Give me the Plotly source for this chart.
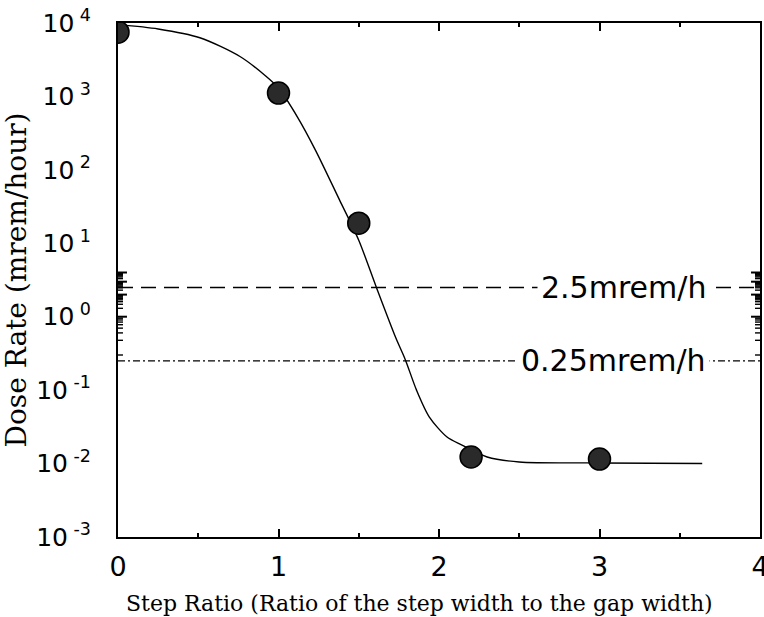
import math
import plotly.graph_objects as go

# measured points (Step ratio, dose rate mrem/h)
meas_x = [0.0, 1.0, 1.5, 2.2, 3.0]
meas_y = [7500, 1110, 18.8, 0.0123, 0.0115]

# fitted curve
curve_x = [0.0, 0.25, 0.51, 0.76, 0.92, 1.0, 1.12, 1.23, 1.38, 1.50, 1.61,
           1.73, 1.79, 1.86, 1.94, 2.05, 2.14, 2.30, 2.50, 3.0, 3.64]
curve_y = [9500, 8300, 6300, 3500, 1900, 1300, 515, 186, 39, 11, 2.5,
           0.52, 0.26, 0.10, 0.043, 0.023, 0.018, 0.0123, 0.0105, 0.0102, 0.0100]

# limit lines
limit_x = [0, 4]
limit_25 = 2.5
limit_025 = 0.25
limit_labels = ["2.5mrem/h", "0.25mrem/h"]

x_ticks = [0, 1, 2, 3, 4]
x_title = "Step Ratio (Ratio of the step width to the gap width)"
y_title = "Dose Rate (mrem/hour)"
y_exps = [-3, -2, -1, 0, 1, 2, 3, 4]
y_ticktext = ["10<sup> %d</sup>" % e if e >= 0 else "10<sup> -%d</sup>" % (-e) for e in y_exps]
y_minor = [k * 10.0 ** e for e in y_exps[:-1] for k in range(2, 10)]

fig = go.Figure()

fig.add_trace(go.Scatter(x=limit_x, y=[limit_25, limit_25], mode="lines",
                         line=dict(color="black", width=1.3, dash="15px,8px"),
                         showlegend=False, hoverinfo="skip"))
fig.add_trace(go.Scatter(x=limit_x, y=[limit_025, limit_025], mode="lines",
                         line=dict(color="black", width=1.3, dash="7px,3px,2px,3px"),
                         showlegend=False, hoverinfo="skip"))
fig.add_trace(go.Scatter(x=curve_x, y=curve_y, mode="lines",
                         line=dict(color="black", width=1.4, shape="spline", smoothing=0.8),
                         showlegend=False))
fig.add_trace(go.Scatter(x=meas_x, y=meas_y, mode="markers",
                         marker=dict(size=22, color="#2a2a2a",
                                     line=dict(color="black", width=1.5)),
                         showlegend=False))

for val, lab in zip([limit_25, limit_025], limit_labels):
    fig.add_annotation(x=3.69, y=math.log10(val), text=lab,
                       xanchor="right", yanchor="middle", showarrow=False,
                       bgcolor="white", borderpad=3,
                       font=dict(family="DejaVu Sans", size=30, color="black"))

fig.add_annotation(xref="paper", yref="paper", x=0.47, y=-0.13, text=x_title,
                   showarrow=False, xanchor="center", yanchor="middle",
                   font=dict(family="DejaVu Serif", size=22, color="black"))

# y-axis tick marks drawn on both the left and right frame edges
plot_w = 764 - 118 - 2
for vals, length, width in [([10.0 ** e for e in y_exps], 9, 2.0), (y_minor, 5, 1.4)]:
    frac = length / plot_w
    for v in vals:
        lv = math.log10(v)
        for x0, x1 in [(0, frac), (1 - frac, 1)]:
            fig.add_shape(type="line", xref="x domain", yref="y",
                          x0=x0, x1=x1, y0=lv, y1=lv,
                          line=dict(color="black", width=width), layer="above")

fig.update_layout(
    width=764, height=617,
    margin=dict(l=118, r=2, t=23, b=80),
    paper_bgcolor="white", plot_bgcolor="white",
    showlegend=False,
    xaxis=dict(
        range=[0, 4], tickmode="array", tickvals=x_ticks, ticktext=[str(v) for v in x_ticks],
        showgrid=False, zeroline=False,
        showline=True, linecolor="black", linewidth=2, mirror="ticks",
        ticks="inside", ticklen=8, tickwidth=1.5, tickcolor="black",
        minor=dict(dtick=0.5, ticks="inside", ticklen=4, tickcolor="black", showgrid=False),
        tickfont=dict(family="DejaVu Sans", size=27, color="black"),
        ticklabelstandoff=5, ticklabeloverflow="allow", automargin=False,
    ),
    yaxis=dict(
        type="log", range=[-3, 4], tickmode="array",
        tickvals=[10.0 ** e for e in y_exps], ticktext=y_ticktext,
        showgrid=False, zeroline=False,
        showline=True, linecolor="black", linewidth=2, mirror=True,
        ticks="", tickcolor="black",
        tickfont=dict(family="DejaVu Sans", size=25, color="black"),
        ticklabelstandoff=20,
        title=dict(text=y_title,
                   font=dict(family="DejaVu Serif", size=28, color="black"), standoff=1),
    ),
)

fig.write_html("out.html")
